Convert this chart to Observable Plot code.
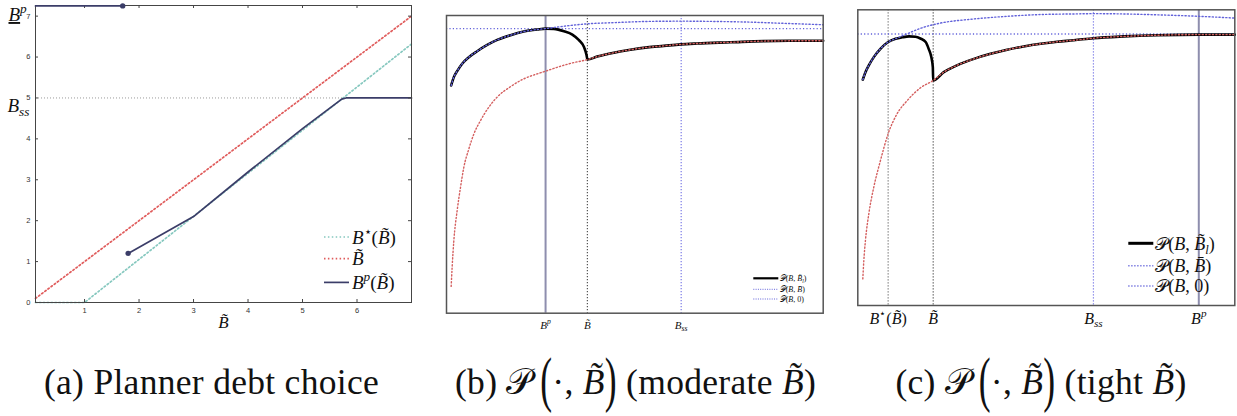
<!DOCTYPE html>
<html><head><meta charset="utf-8">
<script src="https://cdn.jsdelivr.net/npm/d3@7"></script>
<script src="https://cdn.jsdelivr.net/npm/@observablehq/plot@0.6"></script>
<style>
html,body{margin:0;padding:0;background:#fff;}
#root{position:relative;width:1237px;height:416px;overflow:hidden;background:#fff;}
.panel{position:absolute;top:0;}
.panel svg{overflow:visible;background:transparent;}
.cap{position:absolute;top:362px;transform:translateX(-50%);font-family:"Liberation Serif",serif;font-size:35.5px;line-height:40px;white-space:nowrap;color:#111;letter-spacing:0.3px;}
.cap i{font-style:italic;}
.bp{display:inline-block;transform:scale(1,1.75);transform-origin:50% 23.5px;}
.scr{font-family:"DejaVu Serif","DejaVu Sans",serif;font-style:normal;}
</style></head>
<body><div id="root"></div>
<script>
// ---------------- Panel (a): planner debt choice ----------------
const aXDomain = [0.1, 7];
const aYDomain = [0, 7.26];
const aXTicks = [1, 2, 3, 4, 5, 6];
const aYTicks = [0, 1, 2, 3, 4, 5, 6, 7];
const aStarX = [0.1, 1, 7];
const aStarY = [0, 0, 6.32];
const aTildeX = [0.1, 7];
const aTildeY = [0.1, 7];
const aHighX = [0.1, 1.7];
const aHighY = [7.25, 7.25];
const aPolicyX = [1.8, 3, 4, 5, 5.72, 5.8, 7];
const aPolicyY = [1.2, 2.1, 3.19, 4.25, 4.97, 5.0, 5.0];
const aBss = 5;
const aBssEnd = 5.75;
const aBssLabel = "B_{ss}";
const aBpLabel = "B\u0332^{p}";
const aXTitle = "B\u0303";
const aLegendLabels = ["B^{\u22c6}(B\u0303)", "B\u0303", "B^{p}(B\u0303)"];

// ---------------- Panel (b): moderate B~ ----------------
const bXDomain = [0, 10];
const bYDomain = [0, 100];
const bLeftX = [0.124, 0.195, 0.283, 0.416, 0.593, 0.814, 1.08, 1.345, 1.70, 2.05, 2.41, 2.63];
const bLeftY = [76.5, 79.3, 81.3, 83.8, 86.0, 88.0, 90.1, 91.8, 93.4, 94.6, 95.3, 95.6];
const bDropX = [2.85, 3.12, 3.34, 3.51, 3.65, 3.72, 3.74];
const bDropY = [95.5, 94.7, 93.6, 91.8, 89.4, 86.6, 85.2];
const bRightX = [4.0, 4.44, 4.88, 5.33, 5.77, 6.21, 6.65, 7.54, 8.42, 9.31, 10];
const bRightY = [86.2, 87.5, 88.5, 89.3, 89.8, 90.3, 90.6, 91.0, 91.4, 91.5, 91.5];
const bRedX = [0.124, 0.15, 0.195, 0.283, 0.372, 0.46, 0.593, 0.726, 0.903, 1.124, 1.345, 1.70, 2.05, 2.41, 2.63, 2.94, 3.29, 3.74];
const bRedY = [9.0, 15.5, 24.4, 34.5, 42.3, 49.0, 55.2, 60.2, 64.7, 69.2, 72.6, 76.1, 78.7, 80.4, 81.3, 82.6, 83.9, 85.2];
const bBlueUpX = [3.12, 3.74, 4.44, 5.33, 6.23, 7.10, 7.98, 8.87, 10];
const bBlueUpY = [96.4, 97.2, 97.6, 98.0, 98.1, 98.0, 97.8, 97.4, 96.9];
const bFlat = 95.6;
const bBp = 2.63, bBt = 3.74, bBss = 6.23;
const bXTicks = [bBp, bBt, bBss];
const bXLabels = ["B^{p}", "B\u0303", "B_{ss}"];

// ---------------- Panel (c): tight B~ ----------------
const cXDomain = [0, 10];
const cYDomain = [0, 100];
const cLeftX = [0.133, 0.203, 0.292, 0.424, 0.60, 0.805, 1.0];
const cLeftY = [76.4, 78.9, 81.2, 84.0, 86.8, 89.1, 90.2];
const cDropX = [1.18, 1.36, 1.53, 1.66, 1.80, 1.88, 1.95, 1.99, 2.0];
const cDropY = [90.7, 91.0, 90.9, 90.3, 89.1, 86.8, 84.0, 80.6, 76.1];
const cRightX = [2.28, 2.63, 3.08, 3.52, 3.96, 4.40, 4.85, 5.29, 5.73, 6.25, 7.06, 7.94, 9.045, 10];
const cRightY = [78.9, 81.2, 83.4, 85.1, 86.5, 87.6, 88.5, 89.2, 89.7, 90.4, 91.0, 91.4, 91.6, 91.6];
const cRedX = [0.133, 0.16, 0.203, 0.292, 0.424, 0.60, 0.805, 1.04, 1.31, 1.66, 2.0];
const cRedY = [9.0, 15.2, 22.0, 31.0, 40.0, 49.0, 58.1, 64.8, 69.3, 73.6, 76.1];
const cBlueUpX = [1.31, 1.75, 2.19, 3.08, 3.96, 4.85, 5.73, 6.25, 7.06, 7.94, 9.045, 10];
const cBlueUpY = [91.9, 94.1, 95.5, 96.9, 97.8, 98.4, 98.6, 98.7, 98.6, 98.3, 97.8, 97.2];
const cFlat = 91.8;
const cBstar = 0.805, cBt = 2.0, cBss = 6.25, cBp = 9.045;
const cXTicks = [cBstar, cBt, cBss, cBp];
const cXLabels = ["B^{\u22c6}(B\u0303)", "B\u0303", "B_{ss}", "B^{p}"];

const pLegendLabels = ["\u{1D4AB}(B, B\u0303_{l})", "\u{1D4AB}(B, B\u0304)", "\u{1D4AB}(B, 0)"];

// ---------------- helpers ----------------
const pts = (xs, ys) => xs.map((x, i) => ({x, y: ys[i]}));
const NS = "http://www.w3.org/2000/svg";
const navy = "#3b3d68", teal = "#86c8bf", redA = "#e05c5c";
const blue = "#6262da", redP = "#d45f5f";

function parseMath(s) {
  const out = []; const re = /([_^])\{([^}]*)\}/g; let last = 0, m;
  while ((m = re.exec(s))) {
    if (m.index > last) out.push({text: s.slice(last, m.index), kind: ""});
    out.push({text: m[2], kind: m[1]}); last = re.lastIndex;
  }
  if (last < s.length) out.push({text: s.slice(last), kind: ""});
  return out;
}
function mathify(root) {
  root.querySelectorAll("text").forEach(t => {
    const s = t.textContent;
    if (!/[A-Za-z]|\u{1D4AB}/u.test(s)) return;
    t.textContent = "";
    let cur = 0;
    for (const seg of parseMath(s)) {
      const size = seg.kind ? 0.7 : 1;
      const target = seg.kind === "_" ? 0.22 : seg.kind === "^" ? -0.4 : 0;
      const runs = seg.text.match(/[A-Za-z][\u0300-\u036f]*|[^A-Za-z]+/g) || [];
      let first = true;
      for (let r of runs) {
        const ts = document.createElementNS(NS, "tspan");
        if (r.includes("\u0332")) { r = r.replace(/\u0332/g, ""); ts.setAttribute("text-decoration", "underline"); }
        ts.textContent = r;
        if (seg.kind) ts.setAttribute("font-size", "70%");
        if (first && target !== cur) { ts.setAttribute("dy", ((target - cur) / size).toFixed(3) + "em"); cur = target; }
        first = false;
        ts.setAttribute("font-style", /^[A-Za-z]/.test(r) ? "italic" : "normal");
        t.appendChild(ts);
      }
    }
  });
}
function legendMark(entries, cfg) {
  return (index, scales, values, dims) => {
    const right = dims.width - dims.marginRight, bottom = dims.height - dims.marginBottom;
    const g = d3.create("svg:g");
    entries.forEach((e, i) => {
      const y = bottom - cfg.ys[i];
      g.append("line").attr("x1", right - cfg.x0).attr("x2", right - cfg.x1)
        .attr("y1", y).attr("y2", y).attr("stroke", e.stroke).attr("stroke-width", e.width)
        .attr("stroke-dasharray", e.dash || null);
      g.append("text").attr("x", right - cfg.tx).attr("y", y).attr("dy", "0.35em")
        .attr("text-anchor", "start")
        .attr("font-family", "Liberation Serif").attr("font-size", cfg.fs).attr("fill", "#111")
        .text(e.label);
    });
    return g.node();
  };
}
const dotA = {strokeWidth: 1.7, strokeDasharray: "1.5,2.4"};
const dotP = {strokeWidth: 1.4, strokeDasharray: "1.2,2.2"};

// ---------------- Panel (a) ----------------
const aW = 420, aH = 340, aML = 35, aMR = 9, aMT = 5, aMB = 38;
const aFW = aW - aML - aMR, aFH = aH - aMT - aMB;
const panelA = Plot.plot({
  width: aW, height: aH, marginLeft: aML, marginRight: aMR, marginTop: aMT, marginBottom: aMB,
  x: {domain: aXDomain, axis: null}, y: {domain: aYDomain, axis: null},
  marks: [
    Plot.ruleY([aBss], {x1: aXDomain[0], x2: aBssEnd, stroke: "#9a9a9a", strokeWidth: 1, strokeDasharray: "1,2"}),
    Plot.line(pts(aStarX, aStarY), {x: "x", y: "y", stroke: teal, ...dotA}),
    Plot.line(pts(aTildeX, aTildeY), {x: "x", y: "y", stroke: redA, ...dotA}),
    Plot.line(pts(aPolicyX, aPolicyY), {x: "x", y: "y", stroke: navy, strokeWidth: 1.7}),
    Plot.frame({stroke: "#454545", strokeWidth: 1}),
    Plot.ruleY(aYTicks, {y: d => d, insetRight: aFW - 3, stroke: "#454545"}),
    Plot.ruleY(aYTicks, {y: d => d, insetLeft: aFW - 3, stroke: "#454545"}),
    Plot.ruleX(aXTicks, {x: d => d, insetTop: aFH - 3, stroke: "#454545"}),
    Plot.ruleX(aXTicks, {x: d => d, insetBottom: aFH - 3, stroke: "#454545"}),
    Plot.line(pts(aHighX, aHighY), {x: "x", y: "y", stroke: navy, strokeWidth: 1.7}),
    Plot.dot(pts([aHighX[1], aPolicyX[0]], [aHighY[1], aPolicyY[0]]), {x: "x", y: "y", r: 2.7, fill: navy}),
    Plot.text(aYTicks, {y: d => d, text: d => String(d), frameAnchor: "left", dx: -5, textAnchor: "end",
      fontSize: 7.5, fill: "#333", fontFamily: "Liberation Sans"}),
    Plot.text(aXTicks, {x: d => d, text: d => String(d), frameAnchor: "bottom", dy: 10,
      fontSize: 7.5, fill: "#333", fontFamily: "Liberation Sans"}),
    Plot.text([aBss], {y: d => d, text: () => aBssLabel, frameAnchor: "left", dx: -28, dy: 8, textAnchor: "start",
      fontSize: 19, fill: "#111", fontFamily: "Liberation Serif"}),
    Plot.text([aHighY[0]], {y: d => d, text: () => aBpLabel, frameAnchor: "left", dx: -27, dy: 9, textAnchor: "start",
      fontSize: 19, fill: "#111", fontFamily: "Liberation Serif"}),
    Plot.text([aXTitle], {text: d => d, frameAnchor: "bottom", dy: 25, fontSize: 17, fill: "#111", fontFamily: "Liberation Serif"}),
    legendMark([
      {label: aLegendLabels[0], stroke: teal, width: 1.7, dash: "1.5,2.4"},
      {label: aLegendLabels[1], stroke: redA, width: 1.7, dash: "1.5,2.4"},
      {label: aLegendLabels[2], stroke: navy, width: 1.7}
    ], {x0: 87, x1: 62, tx: 59, ys: [65, 43.3, 19.6], fs: 19})
  ]
});

// ---------------- Panel (b) ----------------
const bBlack = pts(bLeftX.concat(bDropX, bRightX), bLeftY.concat(bDropY, bRightY));
const bRed = pts(bRedX.concat(bRightX), bRedY.concat(bRightY));
const bBlue = pts(bLeftX.concat(bBlueUpX), bLeftY.concat(bBlueUpY));
const panelB = Plot.plot({
  width: 410, height: 340, marginLeft: 16, marginRight: 17.3, marginTop: 15, marginBottom: 27.3,
  x: {domain: bXDomain, axis: null}, y: {domain: bYDomain, axis: null},
  marks: [
    Plot.ruleX([bBp], {x: d => d, stroke: "#8e8eae", strokeWidth: 2}),
    Plot.ruleX([bBt], {x: d => d, stroke: "#555", strokeWidth: 1.2, strokeDasharray: "1.2,1.8"}),
    Plot.ruleX([bBss], {x: d => d, stroke: "#7b7be6", strokeWidth: 1.2, strokeDasharray: "1.2,1.8"}),
    Plot.ruleY([bFlat], {y: d => d, stroke: blue, ...dotP}),
    Plot.line(bBlack, {x: "x", y: "y", stroke: "#000", strokeWidth: 2.6, curve: "monotone-x"}),
    Plot.line(bRed, {x: "x", y: "y", stroke: redP, ...dotP, curve: "monotone-x"}),
    Plot.line(bBlue, {x: "x", y: "y", stroke: blue, ...dotP, curve: "monotone-x"}),
    Plot.frame({stroke: "#555", strokeWidth: 1.5}),
    Plot.text(bXTicks, {x: d => d, text: (d, i) => bXLabels[i], frameAnchor: "bottom", dy: 15.5,
      fontSize: 11, fill: "#111", fontFamily: "Liberation Serif"}),
    legendMark([
      {label: pLegendLabels[0], stroke: "#000", width: 2.2},
      {label: pLegendLabels[1], stroke: blue, width: 1, dash: "1,1.3"},
      {label: pLegendLabels[2], stroke: blue, width: 1, dash: "1,1.3"}
    ], {x0: 69.4, x1: 44.4, tx: 43, ys: [34.4, 23.4, 13.7], fs: 8})
  ]
});

// ---------------- Panel (c) ----------------
const cBlack = pts(cLeftX.concat(cDropX, cRightX), cLeftY.concat(cDropY, cRightY));
const cRed = pts(cRedX.concat(cRightX), cRedY.concat(cRightY));
const cBlue = pts(cLeftX.concat(cBlueUpX), cLeftY.concat(cBlueUpY));
const panelC = Plot.plot({
  width: 397, height: 340, marginLeft: 17.3, marginRight: 2.7, marginTop: 9.3, marginBottom: 35,
  x: {domain: cXDomain, axis: null}, y: {domain: cYDomain, axis: null},
  marks: [
    Plot.ruleX([cBp], {x: d => d, stroke: "#8e8eae", strokeWidth: 2}),
    Plot.ruleX([cBstar], {x: d => d, stroke: "#777", strokeWidth: 1.2, strokeDasharray: "1.2,1.8"}),
    Plot.ruleX([cBt], {x: d => d, stroke: "#555", strokeWidth: 1.2, strokeDasharray: "1.2,1.8"}),
    Plot.ruleX([cBss], {x: d => d, stroke: "#7b7be6", strokeWidth: 1.2, strokeDasharray: "1.2,1.8"}),
    Plot.ruleY([cFlat], {y: d => d, stroke: blue, ...dotP}),
    Plot.line(cBlack, {x: "x", y: "y", stroke: "#000", strokeWidth: 2.6, curve: "monotone-x"}),
    Plot.line(cRed, {x: "x", y: "y", stroke: redP, ...dotP, curve: "monotone-x"}),
    Plot.line(cBlue, {x: "x", y: "y", stroke: blue, ...dotP, curve: "monotone-x"}),
    Plot.frame({stroke: "#555", strokeWidth: 1.5}),
    Plot.text(cXTicks, {x: d => d, text: (d, i) => cXLabels[i], frameAnchor: "bottom", dy: 18,
      fontSize: 16, fill: "#111", fontFamily: "Liberation Serif"}),
    legendMark([
      {label: pLegendLabels[0], stroke: "#000", width: 3},
      {label: pLegendLabels[1], stroke: blue, width: 1.4, dash: "1.2,1.8"},
      {label: pLegendLabels[2], stroke: blue, width: 1.4, dash: "1.2,1.8"}
    ], {x0: 106, x1: 81, tx: 79, ys: [61.7, 39.3, 19], fs: 18})
  ]
});

// ---------------- assemble ----------------
const root = document.getElementById("root");
[[panelA, 0], [panelB, 430], [panelC, 840]].forEach(([svg, left]) => {
  const d = document.createElement("div");
  d.className = "panel"; d.style.left = left + "px";
  d.appendChild(svg); root.appendChild(d); mathify(svg);
});

// captions
const capA = "(a) Planner debt choice";
const capBTail = "moderate";
const capCTail = "tight";
const capCenters = [211.5, 635.5, 1041];
function capP(tag, tail) {
  return `(${tag}) <span class="scr">\u{1D4AB}</span>&#8201;<span class="bp">(</span>\u00b7, <i>B\u0303</i><span class="bp">)</span> (${tail} <i>B\u0303</i>)`;
}
[capA, capP("b", capBTail), capP("c", capCTail)].forEach((html, i) => {
  const d = document.createElement("div");
  d.className = "cap"; d.style.left = capCenters[i] + "px"; d.innerHTML = html;
  root.appendChild(d);
});
</script>
</body></html>
